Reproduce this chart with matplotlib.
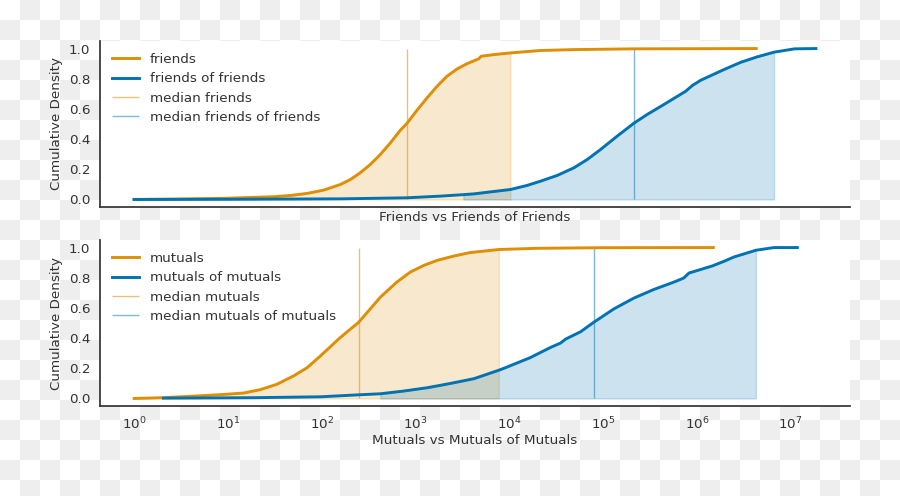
import numpy as np
import matplotlib
matplotlib.use("Agg")
import matplotlib.pyplot as plt

# ---------------- data ----------------
friends_x = [1, 3, 10, 13.5, 30.7, 46, 70, 105, 158, 202, 258, 330, 422, 540, 690, 813,
             1040, 1330, 1700, 2170, 2780, 3550, 4730, 5010, 6840, 10300, 21400, 49000,
             215000, 1000000, 4300000]
friends_y = [0.0, 0.003, 0.008, 0.011, 0.018, 0.026, 0.040, 0.062, 0.099, 0.132, 0.177,
             0.232, 0.298, 0.375, 0.459, 0.505, 0.592, 0.673, 0.75, 0.817, 0.865, 0.90,
             0.932, 0.949, 0.96, 0.971, 0.987, 0.993, 0.998, 0.999, 1.0]

fof_x = [1, 10, 160, 813, 1845, 3240, 4200, 10300, 15500, 21500, 32400, 49000, 67900,
         94000, 141000, 213000, 295000, 445000, 760000, 895000, 1100000, 1950000, 2940000,
         4400000, 6660000, 11000000, 18600000]
fof_y = [0.0, 0.001, 0.004, 0.011, 0.022, 0.032, 0.037, 0.066, 0.093, 0.121, 0.159, 0.21,
         0.265, 0.331, 0.419, 0.505, 0.563, 0.629, 0.717, 0.755, 0.79, 0.861, 0.909,
         0.945, 0.976, 0.998, 1.0]

mutuals_x = [1, 2, 3.65, 8.3, 14.7, 22, 33, 50, 70, 97, 158, 248, 422, 632, 883, 1230,
             1700, 2570, 3850, 7730, 20000, 100000, 1500000]
mutuals_y = [0.0, 0.005, 0.013, 0.025, 0.036, 0.058, 0.093, 0.149, 0.204, 0.282, 0.404,
             0.505, 0.671, 0.771, 0.838, 0.882, 0.915, 0.944, 0.967, 0.987, 0.995, 0.999,
             1.0]

mom_x = [2.06, 18.6, 97, 248, 422, 748, 1330, 1845, 2560, 4200, 7730, 9120, 16800, 27500,
         35200, 39800, 57600, 79700, 130000, 213000, 347000, 569000, 725000, 823000,
         1460000, 1950000, 2500000, 4260000, 6660000, 11800000]
mom_y = [0.002, 0.005, 0.011, 0.024, 0.031, 0.049, 0.071, 0.087, 0.104, 0.131, 0.187,
         0.204, 0.271, 0.338, 0.367, 0.393, 0.442, 0.505, 0.593, 0.665, 0.722, 0.771,
         0.798, 0.831, 0.878, 0.909, 0.938, 0.982, 1.0, 1.0]

median_friends = 813
median_fof = 213000
median_mutuals = 248
median_mom = 79700

fill_friends = (1, 10300)
fill_fof = (3240, 6660000)
fill_mutuals = (1, 7730)
fill_mom = (422, 4260000)

ORANGE = "#de8f05"
BLUE = "#0173b2"
TXT = "#333333"

plt.rcParams.update({
    "font.family": ["DejaVu Sans"],
    "font.size": 9.7,
    "text.color": TXT,
    "axes.labelcolor": TXT,
    "xtick.color": TXT,
    "ytick.color": TXT,
})

W, H = 900, 496
fig = plt.figure(figsize=(W / 100, H / 100), dpi=100, facecolor="white")

# transparent-background checkerboard look
r = np.arange(H)[:, None] // 20
c = np.arange(W)[None, :] // 20
checker = np.where((r + c) % 2 == 1, 0.937, 1.0)
img = np.dstack([checker, checker, checker])
fig.figimage(img, xo=0, yo=0, origin="upper", zorder=-10)

left, width = 100 / W, 750 / W
ax_h = 166 / H
ax1 = fig.add_axes([left, 1 - 207 / H, width, ax_h])
ax2 = fig.add_axes([left, 1 - 406 / H, width, ax_h], sharex=ax1)


def panel(ax, xa, ya, xb, yb, ma, mb, fa, fb, la, lb):
    xa = np.asarray(xa, float); ya = np.asarray(ya, float)
    xb = np.asarray(xb, float); yb = np.asarray(yb, float)
    ax.set_facecolor("white")
    ax.plot(xa, ya, color=ORANGE, lw=2.1, label=la, zorder=3)
    ax.plot(xb, yb, color=BLUE, lw=2.1, label=lb, zorder=3)
    ax.vlines(ma, 0, 1, color=ORANGE, lw=1, alpha=0.55, label="median " + la, zorder=2)
    ax.vlines(mb, 0, 1, color=BLUE, lw=1, alpha=0.5, label="median " + lb, zorder=2)
    m = (xa >= fa[0]) & (xa <= fa[1])
    ax.fill_between(xa[m], ya[m], color=ORANGE, alpha=0.2, lw=1, zorder=1)
    m = (xb >= fb[0]) & (xb <= fb[1])
    ax.fill_between(xb[m], yb[m], color=BLUE, alpha=0.2, lw=1, zorder=1)
    ax.set_xscale("log")
    ax.set_ylabel("Cumulative Density", labelpad=4)
    for s in ("top", "right"):
        ax.spines[s].set_visible(False)
    for s in ("left", "bottom"):
        ax.spines[s].set_color("#333333")
        ax.spines[s].set_linewidth(1.25)
    ax.tick_params(length=0, pad=7)
    ax.set_yticks([0.0, 0.2, 0.4, 0.6, 0.8, 1.0])
    ax.legend(loc="upper left", frameon=False, handlelength=2.0, labelspacing=0.46,
              borderaxespad=0.5)


panel(ax1, friends_x, friends_y, fof_x, fof_y, median_friends, median_fof,
      fill_friends, fill_fof, "friends", "friends of friends")
panel(ax2, mutuals_x, mutuals_y, mom_x, mom_y, median_mutuals, median_mom,
      fill_mutuals, fill_mom, "mutuals", "mutuals of mutuals")

ax1.tick_params(labelbottom=False)
ax1.set_xlabel("Friends vs Friends of Friends", labelpad=3)
ax2.set_xlabel("Mutuals vs Mutuals of Mutuals", labelpad=1)
ax2.set_xticks([10.0 ** k for k in range(0, 8)])
ax2.minorticks_off()

fig.savefig("out.png", dpi=100, facecolor="white")
